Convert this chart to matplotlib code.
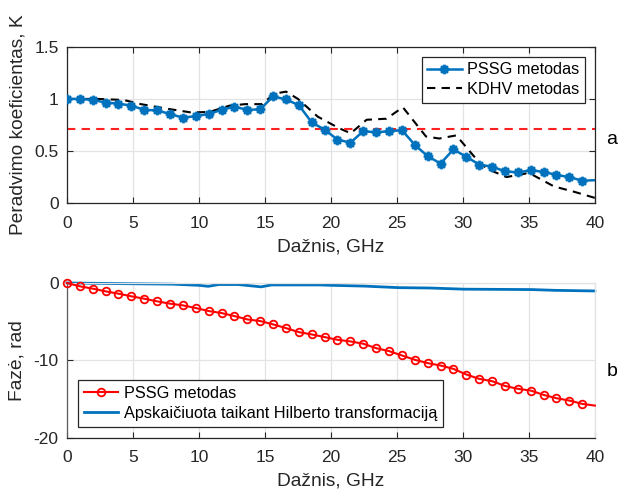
import numpy as np
import matplotlib
matplotlib.use("Agg")
import matplotlib.pyplot as plt
from matplotlib.path import Path

plt.rcParams['font.family'] = ['Liberation Sans', 'DejaVu Sans']
plt.rcParams['axes.unicode_minus'] = False

# ---- data ----
marker_step = 0.976  # GHz between measured points
pssg_K = [1.0, 1.0, 0.99, 0.965, 0.955, 0.935, 0.895, 0.89, 0.855, 0.82,
          0.835, 0.855, 0.895, 0.925, 0.895, 0.90, 1.025, 0.995, 0.94, 0.775,
          0.705, 0.61, 0.58, 0.69, 0.68, 0.69, 0.70, 0.56, 0.45, 0.38,
          0.515, 0.445, 0.37, 0.35, 0.305, 0.295, 0.315, 0.30, 0.27, 0.25,
          0.215]
pssg_K_end = 0.22

kdhv_f = [0, 2.3, 4.3, 5.6, 7.4, 9.4, 10.8, 12.3, 13.5, 14.8, 15.7, 16.6, 17.5,
          19.0, 20.6, 21.5, 22.7, 24.2, 25.45, 27.2, 28.2, 29.5, 30.3, 31.3,
          32.0, 33.3, 34.8, 35.3, 36.9, 38.4, 40]
kdhv_K = [1.0, 1.0, 0.99, 0.95, 0.91, 0.87, 0.875, 0.935, 0.95, 0.95, 1.05, 1.07,
          1.0, 0.83, 0.72, 0.67, 0.80, 0.81, 0.92, 0.64, 0.62, 0.65, 0.53, 0.38,
          0.32, 0.25, 0.285, 0.27, 0.16, 0.11, 0.05]
threshold = 0.707

pssg_phase = [0, -0.43, -0.73, -1.08, -1.38, -1.72, -2.03, -2.37, -2.67, -2.89,
              -3.23, -3.62, -3.88, -4.27, -4.70, -4.91, -5.34, -5.82, -6.34, -6.64,
              -6.98, -7.33, -7.54, -7.84, -8.41, -8.79, -9.35, -9.91, -10.34, -10.65,
              -11.08, -11.81, -12.37, -12.67, -13.28, -13.66, -13.88, -14.44, -14.87,
              -15.17, -15.60]
pssg_phase_end = -15.82

hilb_f = [0, 5, 8, 10, 10.7, 11.5, 13, 14.7, 15.5, 17, 19.2, 20, 22.5, 25.1,
          27.5, 30.1, 35.2, 37, 40]
hilb_phase = [0, -0.1, -0.15, -0.3, -0.43, -0.2, -0.2, -0.5, -0.25, -0.25, -0.25,
              -0.3, -0.4, -0.6, -0.65, -0.8, -0.85, -0.95, -1.03]

xticks = [0, 5, 10, 15, 20, 25, 30, 35, 40]
yticks_top = [0, 0.5, 1, 1.5]
ytick_labels_top = ['0', '0.5', '1', '1.5']
yticks_bot = [-20, -10, 0]

# ---- build ----
n = len(pssg_K)
f_pts = np.arange(n) * marker_step
f_line = np.append(f_pts, 40.0)
K_line = np.append(pssg_K, pssg_K_end)
ph_line = np.append(pssg_phase, pssg_phase_end)

# MATLAB-like asterisk marker (+ and x combined)
d = 0.7071
ast_verts = [(-1, 0), (1, 0), (0, -1), (0, 1), (-d, -d), (d, d), (-d, d), (d, -d)]
ast_codes = [Path.MOVETO, Path.LINETO] * 4
asterisk = Path(ast_verts, ast_codes)

blue = '#0072BD'
dark = '#262626'
gridc = '#e3e3e3'

fig = plt.figure(figsize=(6.33, 4.93), dpi=100)
ax1 = fig.add_axes([0.1058, 0.588, 0.834, 0.317])
ax2 = fig.add_axes([0.1058, 0.1116, 0.834, 0.3144])

tick_fs = 12.5
lab_fs = 13.8
leg_fs = 11.7

# top
ax1.plot(f_line, K_line, color=blue, lw=1.8, marker=asterisk, markersize=7,
         markeredgewidth=2.0, markevery=list(range(n)), label='PSSG metodas', zorder=3)
ax1.plot(kdhv_f, kdhv_K, color='black', lw=1.5, ls=(0, (4, 3)), label='KDHV metodas', zorder=2)
ax1.axhline(threshold, color='#ff2020', lw=1.5, ls=(0, (4, 3)), zorder=2)
ax1.set_xlim(0, 40)
ax1.set_ylim(0, 1.5)
ax1.set_xticks(xticks)
ax1.set_yticks(yticks_top)
ax1.set_yticklabels(ytick_labels_top)
ax1.grid(True, color=gridc, lw=0.9)
ax1.set_axisbelow(True)
for s in ax1.spines.values():
    s.set_color(dark)
    s.set_linewidth(0.9)
ax1.tick_params(direction='in', length=4, top=True, right=True, labelsize=tick_fs,
                colors=dark, pad=6)
ax1.tick_params(axis='x', pad=9)
ax1.set_xlabel('Dažnis, GHz', fontsize=lab_fs, color=dark, labelpad=6)
ax1.set_ylabel('Peradvimo koeficientas, K', fontsize=lab_fs, color=dark)
ax1.yaxis.set_label_coords(-0.076, 0.5)
leg1 = ax1.legend(loc='upper right', fontsize=leg_fs, frameon=True, fancybox=False,
                  framealpha=1, edgecolor=dark, borderaxespad=0.6, handlelength=2.1,
                  labelspacing=0.3, borderpad=0.35, handletextpad=0.35)
leg1.get_frame().set_linewidth(0.9)

# bottom
ax2.plot(f_line, ph_line, color='#ff0000', lw=1.5, marker='o', markersize=5.5,
         markerfacecolor='none', markeredgewidth=1.3, markevery=list(range(n)),
         label='PSSG metodas', zorder=3, clip_on=False)
ax2.plot(hilb_f, hilb_phase, color=blue, lw=2.0,
         label='Apskaičiuota taikant Hilberto transformaciją', zorder=2, clip_on=False)
ax2.set_xlim(0, 40)
ax2.set_ylim(-20, 0)
ax2.set_xticks(xticks)
ax2.set_yticks(yticks_bot)
ax2.grid(True, color=gridc, lw=0.9)
ax2.set_axisbelow(True)
ax2.spines['left'].set_color('#5a5a5a')
ax2.spines['bottom'].set_color(dark)
ax2.spines['top'].set_color(gridc)
ax2.spines['right'].set_color(gridc)
for s in ax2.spines.values():
    s.set_linewidth(0.9)
ax2.tick_params(direction='in', length=4, labelsize=tick_fs, colors=dark, pad=6)
ax2.tick_params(axis='x', pad=9)
ax2.set_xlabel('Dažnis, GHz', fontsize=lab_fs, color=dark, labelpad=5)
ax2.set_ylabel('Fazė, rad', fontsize=lab_fs, color=dark)
ax2.yaxis.set_label_coords(-0.079, 0.5)
leg2 = ax2.legend(loc='lower left', fontsize=leg_fs, frameon=True, fancybox=False,
                  framealpha=1, edgecolor=dark, borderaxespad=0.7, handlelength=2.1,
                  labelspacing=0.3, borderpad=0.35, handletextpad=0.35)
leg2.get_frame().set_linewidth(0.9)

fig.text(612 / 633, 1 - 140 / 493, 'a', fontsize=14, color='black', ha='center', va='center')
fig.text(612 / 633, 1 - 372 / 493, 'b', fontsize=14, color='black', ha='center', va='center')

fig.savefig('out.png', dpi=100)
